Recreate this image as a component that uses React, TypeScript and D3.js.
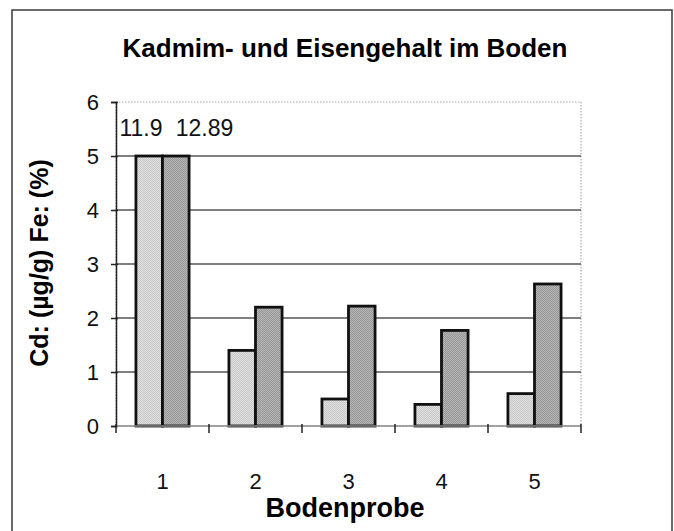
import { useRef, useEffect } from "react";
import * as d3 from "d3";

// Bodenproben 1-5
const categories = ["1", "2", "3", "4", "5"];
const series = ["Cd", "Fe"];
// Cd in µg/g, Fe in %
const cdValues = [11.9, 1.4, 0.5, 0.4, 0.6];
const feValues = [12.89, 2.2, 2.22, 1.77, 2.63];
const yTicks = [0, 1, 2, 3, 4, 5, 6];
const yMax = 6;
const barCap = 5; // values above this are cut off and labelled

const W = 674;
const H = 531;

const App = () => {
  const ref = useRef<SVGSVGElement>(null);

  useEffect(() => {
    if (!ref.current) return;
    const svg = d3.select(ref.current);
    svg.selectAll("*").remove();

    const font = "'Liberation Sans', Arial, Helvetica, sans-serif";
    const left = 116;
    const right = 581;
    const top = 102;
    const bottom = 426;

    const x = d3.scaleBand().domain(categories).range([left, right]);
    const xs = d3
      .scaleBand()
      .domain(series)
      .range([0, x.bandwidth()])
      .paddingOuter(0.75);
    const y = d3.scaleLinear().domain([0, yMax]).range([bottom, top]);

    // patterns for the stippled fills
    const defs = svg.append("defs");
    const pat = (id: string, a: string, b: string) => {
      const p = defs
        .append("pattern")
        .attr("id", id)
        .attr("width", 2)
        .attr("height", 2)
        .attr("patternUnits", "userSpaceOnUse");
      p.append("rect").attr("width", 2).attr("height", 2).attr("fill", a);
      p.append("rect").attr("width", 1).attr("height", 1).attr("fill", b);
      p.append("rect").attr("x", 1).attr("y", 1).attr("width", 1).attr("height", 1).attr("fill", b);
    };
    pat("pLight", "#e0e0e0", "#c8c8c8");
    pat("pDark", "#b6b6b6", "#979797");

    // outer frame
    svg
      .append("rect")
      .attr("x", 12)
      .attr("y", 10)
      .attr("width", 660)
      .attr("height", 530)
      .attr("fill", "white")
      .attr("stroke", "#3a3a3a")
      .attr("stroke-width", 1.5);

    svg
      .append("text")
      .text("Kadmim- und Eisengehalt im Boden")
      .attr("x", 345)
      .attr("y", 57)
      .attr("text-anchor", "middle")
      .style("font-family", font)
      .style("font-weight", "bold")
      .style("font-size", "26px");

    // plot area border (dotted)
    svg
      .append("rect")
      .attr("x", left)
      .attr("y", top)
      .attr("width", right - left)
      .attr("height", bottom - top)
      .attr("fill", "none")
      .attr("stroke", "#aaa")
      .attr("stroke-width", 1.2)
      .attr("stroke-dasharray", "1.5,1.5");

    // gridlines
    svg
      .append("g")
      .selectAll("line")
      .data(yTicks.filter((t) => t > 0 && t < yMax))
      .enter()
      .append("line")
      .attr("x1", left)
      .attr("x2", right)
      .attr("y1", (d) => y(d))
      .attr("y2", (d) => y(d))
      .attr("stroke", "#555")
      .attr("stroke-width", 1.5);

    // y axis
    const yAxis = svg
      .append("g")
      .attr("transform", `translate(${left},0)`)
      .call(
        d3
          .axisLeft(y)
          .tickValues(yTicks)
          .tickFormat(d3.format("d"))
          .tickSize(5)
          .tickPadding(12)
      );
    yAxis.select(".domain").attr("stroke", "#222").attr("stroke-width", 1.5);
    yAxis
      .selectAll(".tick line")
      .attr("x1", 2)
      .attr("x2", -5)
      .attr("stroke", "#222")
      .attr("stroke-width", 1.5);
    yAxis
      .selectAll(".tick text")
      .style("font-family", font)
      .style("font-size", "22px")
      .attr("fill", "#111");

    // bars
    const rows = categories.map((c, i) => ({ c, vals: [cdValues[i], feValues[i]] }));
    const groups = svg
      .append("g")
      .selectAll("g")
      .data(rows)
      .enter()
      .append("g")
      .attr("transform", (d) => `translate(${x(d.c)},0)`);
    groups
      .selectAll("rect")
      .data((d) => d.vals.map((v, k) => ({ s: series[k], v })))
      .enter()
      .append("rect")
      .attr("x", (d) => xs(d.s)!)
      .attr("width", xs.bandwidth())
      .attr("y", (d) => y(Math.min(d.v, barCap)))
      .attr("height", (d) => bottom - y(Math.min(d.v, barCap)))
      .attr("fill", (d) => (d.s === "Cd" ? "url(#pLight)" : "url(#pDark)"))
      .attr("stroke", "#111")
      .attr("stroke-width", 2.8);

    // labels for cut-off bars
    rows.forEach((r) => {
      r.vals.forEach((v, k) => {
        if (v <= barCap) return;
        const bx = x(r.c)! + xs(series[k])!;
        svg
          .append("text")
          .text(String(v))
          .attr("x", k === 0 ? bx + xs.bandwidth() : bx + xs.bandwidth() / 2)
          .attr("y", 136)
          .attr("text-anchor", k === 0 ? "end" : "start")
          .style("font-family", font)
          .style("font-size", "23px")
          .attr("fill", "#111");
      });
    });

    // x axis
    svg
      .append("line")
      .attr("x1", left)
      .attr("x2", right)
      .attr("y1", bottom)
      .attr("y2", bottom)
      .attr("stroke", "#888")
      .attr("stroke-width", 1.5);
    const bounds = d3.range(categories.length + 1).map((i) => left + i * x.step());
    svg
      .append("g")
      .selectAll("line")
      .data(bounds)
      .enter()
      .append("line")
      .attr("x1", (d) => d)
      .attr("x2", (d) => d)
      .attr("y1", bottom - 2)
      .attr("y2", bottom + 7)
      .attr("stroke", "#222")
      .attr("stroke-width", 1.5);
    svg
      .append("g")
      .selectAll("text")
      .data(categories)
      .enter()
      .append("text")
      .text((d) => d)
      .attr("x", (d) => x(d)! + x.bandwidth() / 2)
      .attr("y", 489)
      .attr("text-anchor", "middle")
      .style("font-family", font)
      .style("font-size", "22px")
      .attr("fill", "#111");

    // axis titles
    svg
      .append("text")
      .text("Bodenprobe")
      .attr("x", 345)
      .attr("y", 517)
      .attr("text-anchor", "middle")
      .style("font-family", font)
      .style("font-weight", "bold")
      .style("font-size", "27px");
    svg
      .append("text")
      .text("Cd: (µg/g) Fe: (%)")
      .attr("transform", "translate(48,263) rotate(-90)")
      .attr("text-anchor", "middle")
      .style("font-family", font)
      .style("font-weight", "bold")
      .style("font-size", "25px");
  }, []);

  return (
    <svg
      ref={ref}
      width={W}
      height={H}
      style={{ position: "absolute", left: 0, top: 0, background: "white" }}
    />
  );
};

export default App;
